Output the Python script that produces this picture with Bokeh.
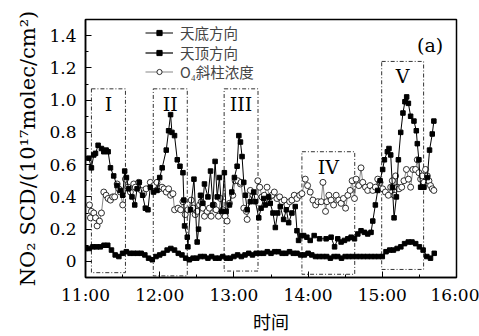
from bokeh.plotting import figure
from bokeh.models import Range1d, FixedTicker, Legend, LegendItem, Label
from bokeh.core.properties import value
from bokeh.embed import file_html
from bokeh.resources import INLINE

# ---- data (minutes after 11:00, NO2 SCD in 1e17 molec/cm2) ----
nadir_min = [2.7, 4.8, 6.7, 8.1, 10.2, 12.9, 14.8, 16.7, 18.3, 20.2, 22.8, 25.5, 28.2, 30.1,
             31.7, 33.1, 34.9, 37.6, 39.8, 41.7, 43.5, 46.2, 48.4, 50.5, 52.4, 55.1, 57.8,
             60.0, 62.0, 65.3, 67.2, 68.8, 69.9, 72.0, 74.2, 76.4, 78.8, 79.5, 80.1, 82.3,
             82.8, 84.9, 87.7, 90.3, 91.4, 93.0, 94.9, 96.2, 99.0, 101.1, 103.0, 104.8,
             106.5, 108.3, 110.2, 112.3, 113.7, 116.4, 118.3, 120.4, 122.6, 124.0, 125.3,
             126.6, 128.0, 129.3, 130.7, 133.3, 136.0, 137.4, 140.1, 142.0, 144.1, 145.4,
             148.1, 149.4, 151.6, 153.5, 155.4, 157.5, 160.2, 162.4, 164.3, 166.9, 169.6,
             171.0, 172.3, 174.2, 176.4, 179.0, 181.7, 184.9, 189.3, 194.6, 198.6, 201.4,
             204.0, 206.7, 209.4, 212.1, 214.8, 217.5, 220.2, 222.8, 225.6, 228.2, 230.9,
             232.3, 234.4, 236.3, 238.2, 240.3, 241.7, 244.1, 245.4, 246.8, 248.2, 249.5,
             251.4, 253.0, 254.9, 256.7, 258.3, 259.7, 261.1, 262.9, 265.6, 267.5, 268.3,
             269.6, 271.0, 272.3, 273.7, 276.4, 278.2, 280.4, 281.7]
nadir_val = [0.64, 0.58, 0.66, 0.67, 0.72, 0.70, 0.68, 0.69, 0.68, 0.58, 0.53, 0.47, 0.44, 0.41,
             0.56, 0.52, 0.45, 0.40, 0.35, 0.45, 0.49, 0.41, 0.33, 0.32, 0.46, 0.43, 0.44,
             0.52, 0.58, 0.69, 0.81, 0.91, 0.80, 0.78, 0.63, 0.59, 0.55, 0.38, 0.22, 0.15,
             0.09, 0.32, 0.51, 0.12, 0.20, 0.41, 0.36, 0.48, 0.40, 0.56, 0.35, 0.62,
             0.40, 0.52, 0.31, 0.55, 0.31, 0.35, 0.43, 0.52, 0.59, 0.78, 0.74,
             0.65, 0.49, 0.41, 0.32, 0.37, 0.43, 0.37, 0.27, 0.33, 0.39, 0.35,
             0.40, 0.36, 0.30, 0.21, 0.30, 0.34, 0.26, 0.32, 0.24, 0.30, 0.34,
             0.19, 0.13, 0.16, 0.16, 0.15, 0.13, 0.16, 0.14, 0.14, 0.15, 0.09,
             0.14, 0.12, 0.13, 0.14, 0.15, 0.14, 0.17, 0.19, 0.18, 0.17, 0.18,
             0.25, 0.35, 0.44, 0.50, 0.57, 0.63, 0.68, 0.70, 0.66, 0.46, 0.27,
             0.40, 0.63, 0.80, 0.92, 0.99, 1.02, 0.98, 0.90, 0.87, 0.81, 0.73,
             0.63, 0.46, 0.46, 0.46, 0.52, 0.69, 0.79, 0.87]

zenith_min = [0, 3, 6, 9, 12, 15, 18, 21, 24, 27, 30, 33, 36, 39, 42, 45, 48, 51, 54, 57,
              60, 63, 66, 69, 72, 75, 78, 81, 84, 87, 90, 93, 96, 99, 102, 105, 108, 111,
              114, 117, 120, 123, 126, 129, 132, 135, 138, 141, 144, 147, 150, 153, 156,
              159, 162, 165, 168, 171, 174, 177, 180, 183, 186, 189, 192, 195, 198, 201,
              204, 207, 210, 213, 216, 219, 222, 225, 228, 231, 234, 237, 240, 243, 246,
              249, 252, 255, 258, 261, 264, 267, 270, 273, 276, 279, 282]
zenith_val = [0.08, 0.08, 0.09, 0.09, 0.09, 0.10, 0.10, 0.07, 0.04, 0.03, 0.05, 0.06, 0.05,
              0.05, 0.05, 0.05, 0.04, 0.02, 0.01, 0.03, 0.04, 0.05, 0.07, 0.08, 0.07, 0.05,
              0.04, 0.02, 0.01, 0.02, 0.02, 0.03, 0.03, 0.02, 0.03, 0.02, 0.02, 0.03, 0.02,
              0.02, 0.03, 0.04, 0.03, 0.04, 0.05, 0.04, 0.05, 0.05, 0.05, 0.06, 0.05, 0.06,
              0.06, 0.05, 0.05, 0.06, 0.05, 0.05, 0.04, 0.04, 0.05, 0.04, 0.03, 0.03, 0.03,
              0.03, 0.02, 0.03, 0.03, 0.02, 0.03, 0.03, 0.03, 0.03, 0.03, 0.03, 0.03, 0.03,
              0.03, 0.03, 0.03, 0.06, 0.07, 0.07, 0.08, 0.09, 0.11, 0.12, 0.12, 0.11, 0.09,
              0.07, 0.03, 0.02, 0.05]

o4_min = [3.2, 4.0, 4.8, 6.7, 8.1, 9.4, 11.3, 12.9, 14.8, 16.7, 18.3, 20.2, 22.0, 23.6,
          25.6, 26.9, 28.2, 30.1, 32.3, 34.4, 36.3, 39.0, 40.3, 43.0, 45.2, 47.0, 49.0,
          52.4, 55.1, 57.8, 59.7, 61.9, 63.5, 65.3, 67.2, 68.8, 70.7, 72.0, 74.8, 76.9,
          78.8, 80.6, 82.8, 85.5, 87.1, 88.7, 90.3, 92.2, 93.6, 94.9, 96.2, 98.4, 100.2,
          101.6, 103.8, 105.6, 107.5, 109.1, 111.1, 112.9, 114.5, 116.4, 119.1, 121.0,
          123.2, 125.3, 125.8, 128.0, 130.1, 130.7, 133.3, 135.5, 137.4, 139.3, 140.9,
          142.7, 144.6, 146.8, 149.0, 150.8, 152.7, 154.8, 157.0, 158.9, 160.7, 162.9,
          165.1, 166.9, 168.8, 171.0, 173.2, 175.0, 177.7, 179.6, 181.7, 183.9, 186.1,
          187.9, 190.6, 192.0, 194.1, 195.2, 196.8, 198.6, 200.6, 202.7, 204.8, 206.7,
          208.6, 210.3, 212.1, 214.0, 215.6, 217.5, 218.8, 221.0, 222.8, 224.2, 226.4,
          228.2, 230.1, 232.3, 234.4, 236.3, 238.2, 240.3, 242.5, 244.9, 246.8, 248.1,
          249.5, 250.8, 252.2, 253.5, 255.7, 257.5, 259.5, 261.1, 262.9, 264.8, 266.9,
          268.3, 269.6, 271.0, 272.3, 273.7, 275.0, 276.4, 277.7, 279.0, 280.4, 281.7]
o4_val = [0.35, 0.27, 0.31, 0.30, 0.27, 0.22, 0.25, 0.30, 0.43, 0.41, 0.39, 0.38, 0.40, 0.40,
          0.48, 0.45, 0.43, 0.35, 0.51, 0.46, 0.43, 0.48, 0.46, 0.49, 0.44, 0.42, 0.45,
          0.49, 0.47, 0.49, 0.45, 0.46, 0.45, 0.43, 0.45, 0.41, 0.42, 0.32, 0.33, 0.32,
          0.37, 0.29, 0.32, 0.38, 0.33, 0.29, 0.31, 0.35, 0.37, 0.33, 0.28, 0.31, 0.33,
          0.28, 0.35, 0.32, 0.28, 0.39, 0.32, 0.28, 0.25, 0.36, 0.41, 0.50,
          0.50, 0.48, 0.49, 0.33, 0.31, 0.26, 0.44, 0.41, 0.40, 0.50, 0.46,
          0.40, 0.41, 0.46, 0.40, 0.41, 0.43, 0.39, 0.40, 0.37, 0.38, 0.35,
          0.37, 0.38, 0.41, 0.39, 0.41, 0.42, 0.51, 0.47, 0.43, 0.38, 0.35,
          0.37, 0.37, 0.49, 0.31, 0.37, 0.41, 0.38, 0.35, 0.41, 0.38, 0.36,
          0.39, 0.33, 0.41, 0.44, 0.50, 0.39, 0.51, 0.47, 0.58, 0.49, 0.46,
          0.44, 0.47, 0.44, 0.46, 0.51, 0.49, 0.45, 0.43, 0.41, 0.46, 0.50,
          0.41, 0.53, 0.46, 0.45, 0.46, 0.50, 0.57, 0.51, 0.46, 0.57, 0.57,
          0.63, 0.55, 0.51, 0.53, 0.49, 0.57, 0.53, 0.50, 0.47, 0.45, 0.44]

# highlighted episodes
box_labels = ["I", "II", "III", "IV", "V"]
box_start_min = [4.8, 54.8, 112.1, 175.0, 239.5]
box_end_min = [32.3, 82.3, 139.5, 217.7, 273.4]
box_top = [1.07, 1.07, 1.07, 0.68, 1.24]
box_bottom = [-0.07, -0.09, -0.06, -0.08, -0.05]

x_ticks = [11, 12, 13, 14, 15, 16]
x_tick_labels = ["11:00", "12:00", "13:00", "14:00", "15:00", "16:00"]
y_ticks = [0, 0.2, 0.4, 0.6, 0.8, 1.0, 1.2, 1.4]
y_tick_labels = ["0", "0.2", "0.4", "0.6", "0.8", "1.0", "1.2", "1.4"]

legend_labels = ["天底方向", "天顶方向", "O₄斜柱浓度"]


def hrs(mins):
    return [11 + m / 60.0 for m in mins]


SERIF = "DejaVu Serif"
CJK = "Noto Sans CJK SC"

p = figure(width=479, height=336, x_range=Range1d(11, 16), y_range=Range1d(-0.1, 1.5),
           output_backend="svg", toolbar_location=None,
           min_border_left=85, min_border_right=23, min_border_top=19, min_border_bottom=59)

p.xgrid.visible = False
p.ygrid.visible = False
p.outline_line_color = "black"
p.outline_line_width = 1.5
p.background_fill_color = "white"
p.border_fill_color = "white"

# boxes
bx_l = hrs(box_start_min)
bx_r = hrs(box_end_min)
p.quad(left=bx_l, right=bx_r, top=box_top, bottom=box_bottom, fill_color=None,
       line_color="#333333", line_width=1, line_dash="4 2 1 2")
p.text(x=[(a + b) / 2 for a, b in zip(bx_l, bx_r)], y=box_top, text=box_labels,
       text_align="center", text_baseline="top", y_offset=4,
       text_font=value(SERIF), text_font_size="19px", text_color="black")

# series
o4_x = hrs(o4_min)
l3 = p.line(o4_x, o4_val, line_color="#555555", line_width=0.7)
s3 = p.scatter(o4_x, o4_val, marker="circle", size=6, fill_color="white",
               line_color="black", line_width=0.8)

nx = hrs(nadir_min)
l1 = p.line(nx, nadir_val, line_color="black", line_width=1)
s1 = p.scatter(nx, nadir_val, marker="square", size=4.5, fill_color="black", line_color="black")

zx = hrs(zenith_min)
l2 = p.line(zx, zenith_val, line_color="black", line_width=1.2)
s2 = p.scatter(zx, zenith_val, marker="square", size=4.5, fill_color="black", line_color="black")

# axes
xa = p.xaxis[0]
xa.ticker = FixedTicker(ticks=x_ticks, minor_ticks=[11.5, 12.5, 13.5, 14.5, 15.5])
xa.major_label_overrides = {t: s for t, s in zip(x_ticks, x_tick_labels)}
ya = p.yaxis[0]
ya.ticker = FixedTicker(ticks=y_ticks, minor_ticks=[-0.1, 0.1, 0.3, 0.5, 0.7, 0.9, 1.1, 1.3, 1.5])
ya.major_label_overrides = {t: s for t, s in zip(y_ticks, y_tick_labels)}

for ax in (xa, ya):
    ax.major_tick_in = 6
    ax.major_tick_out = 0
    ax.minor_tick_in = 3
    ax.minor_tick_out = 0
    ax.axis_line_color = "black"
    ax.axis_line_width = 1.5
    ax.major_tick_line_color = "black"
    ax.minor_tick_line_color = "black"
    ax.major_label_text_font = SERIF
    ax.major_label_text_font_size = "17px"
    ax.major_label_text_color = "black"
    ax.axis_label_text_font_style = "normal"
    ax.axis_label_text_color = "black"

xa.major_label_standoff = 7
ya.major_label_standoff = 9
xa.axis_label = "时间"
xa.axis_label_text_font = CJK
xa.axis_label_text_font_size = "18px"
xa.axis_label_standoff = 0
ya.axis_label = "NO₂ SCD/(10¹⁷molec/cm²)"
ya.axis_label_text_font = SERIF
ya.axis_label_text_font_size = "21px"
ya.axis_label_standoff = 6

# legend: one fixed-height row per entry so each row sits at a known place
legend_rows = [(legend_labels[0], [l1, s1], 230),
               (legend_labels[1], [l2, s2], 210),
               (legend_labels[2], [l3, s3], 191)]
for lab, rends, ybot in legend_rows:
    lg = Legend(items=[LegendItem(label=lab, renderers=rends)],
                location=(60, ybot), padding=0, spacing=0, margin=0,
                border_line_color=None, background_fill_alpha=0,
                label_text_font=CJK, label_text_font_size="14.5px",
                glyph_width=28, glyph_height=13, label_height=30, label_standoff=7)
    p.add_layout(lg)

p.add_layout(Label(x=15.82, y=1.34, text="(a)", text_align="right", text_baseline="middle",
                   text_font=SERIF, text_font_size="19px", text_color="black"))

open("out.html", "w").write(file_html(p, INLINE))
